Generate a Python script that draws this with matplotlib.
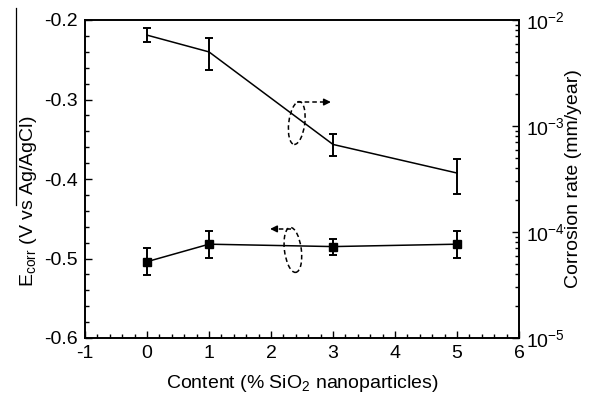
import numpy as np
import matplotlib
matplotlib.use("Agg")
import matplotlib.pyplot as plt
from matplotlib.patches import Ellipse
from matplotlib.lines import Line2D
from matplotlib.ticker import MultipleLocator, LogLocator, NullFormatter

plt.rcParams['font.family'] = ['Liberation Sans', 'DejaVu Sans']
plt.rcParams['mathtext.fontset'] = 'custom'
plt.rcParams['mathtext.rm'] = 'Liberation Sans'

# Données
content = [0, 1, 3, 5]
ecorr = [-0.504, -0.482, -0.485, -0.482]
ecorr_err = [0.017, 0.017, 0.010, 0.017]
rate = [7.2e-3, 5.0e-3, 6.7e-4, 3.6e-4]
rate_lo = [6.2e-3, 3.4e-3, 5.2e-4, 2.3e-4]
rate_hi = [8.4e-3, 6.8e-3, 8.4e-4, 4.9e-4]

fs = 14

fig = plt.figure(figsize=(5.95, 4.01), dpi=100)
ax = fig.add_axes([85/595, 63/401, 434/595, 318/401])
ax2 = ax.twinx()

ax.errorbar(content, ecorr, yerr=ecorr_err, color='black', lw=1.1,
            marker='s', ms=5.5, capsize=3, elinewidth=1.4, capthick=1.4)
err = [np.array(rate) - np.array(rate_lo), np.array(rate_hi) - np.array(rate)]
ax2.errorbar(content, rate, yerr=err, color='black', lw=1.1,
             capsize=3, elinewidth=1.4, capthick=1.4)

ax.set_xlim(-1, 6)
ax.set_ylim(-0.6, -0.2)
ax2.set_yscale('log')
ax2.set_ylim(1e-5, 1e-2)

ax.xaxis.set_minor_locator(MultipleLocator(0.2))
ax.yaxis.set_minor_locator(MultipleLocator(0.02))
ax.set_yticks([-0.6, -0.5, -0.4, -0.3, -0.2])
ax.set_yticklabels(['-0.6', '-0.5', '-0.4', '-0.3', '-0.2'])
ax.set_xticks(range(-1, 7))
ax.set_xticklabels([str(v) for v in range(-1, 7)])
ax2.yaxis.set_major_locator(LogLocator(base=10, numticks=10))
ax2.yaxis.set_minor_locator(LogLocator(base=10, subs=np.arange(2, 10), numticks=10))
ax2.yaxis.set_minor_formatter(NullFormatter())

ax.tick_params(which='both', direction='in', top=False, right=False, labelsize=fs)
ax.tick_params(which='major', length=5, width=1, pad=5)
ax.tick_params(which='minor', length=3, width=1)
ax2.tick_params(which='both', direction='in', labelsize=fs)
ax2.tick_params(which='major', length=5, width=1, pad=5)
ax2.tick_params(which='minor', length=3, width=1)
for a in (ax, ax2):
    for s in a.spines.values():
        s.set_linewidth(1.2)

ax.set_xlabel('Content (% SiO$_2$ nanoparticles)', fontsize=fs, labelpad=8)
ax.set_ylabel('E$_{\\mathrm{corr}}$ (V vs Ag/AgCl)', fontsize=fs, labelpad=4, y=0.43)
ax2.set_ylabel('Corrosion rate (mm/year)', fontsize=fs, labelpad=0)

# ellipses et flèches pointillées
ax.add_patch(Ellipse((0.488, 0.676), 0.037, 0.135, angle=-5, transform=ax.transAxes,
                     fill=False, ls=(0, (3, 2)), lw=1.1, color='black'))
ax.plot([0.488, 0.555], [0.742, 0.742], transform=ax.transAxes, color='black',
        ls=(0, (3, 2)), lw=1.1)
ax.annotate('', xy=(0.573, 0.742), xytext=(0.550, 0.742), xycoords='axes fraction',
            arrowprops=dict(arrowstyle='-|>', color='black', lw=1.1, mutation_scale=10))
ax.add_patch(Ellipse((0.479, 0.277), 0.039, 0.142, angle=5, transform=ax.transAxes,
                     fill=False, ls=(0, (3, 2)), lw=1.1, color='black'))
ax.plot([0.475, 0.440], [0.343, 0.343], transform=ax.transAxes, color='black',
        ls=(0, (3, 2)), lw=1.1)
ax.annotate('', xy=(0.420, 0.343), xytext=(0.445, 0.343), xycoords='axes fraction',
            arrowprops=dict(arrowstyle='-|>', color='black', lw=1.1, mutation_scale=10))

fig.add_artist(Line2D([16/595, 16/595], [1 - 8/401, 1 - 205/401], color='black', lw=0.9))

fig.savefig('out.png', dpi=100)
